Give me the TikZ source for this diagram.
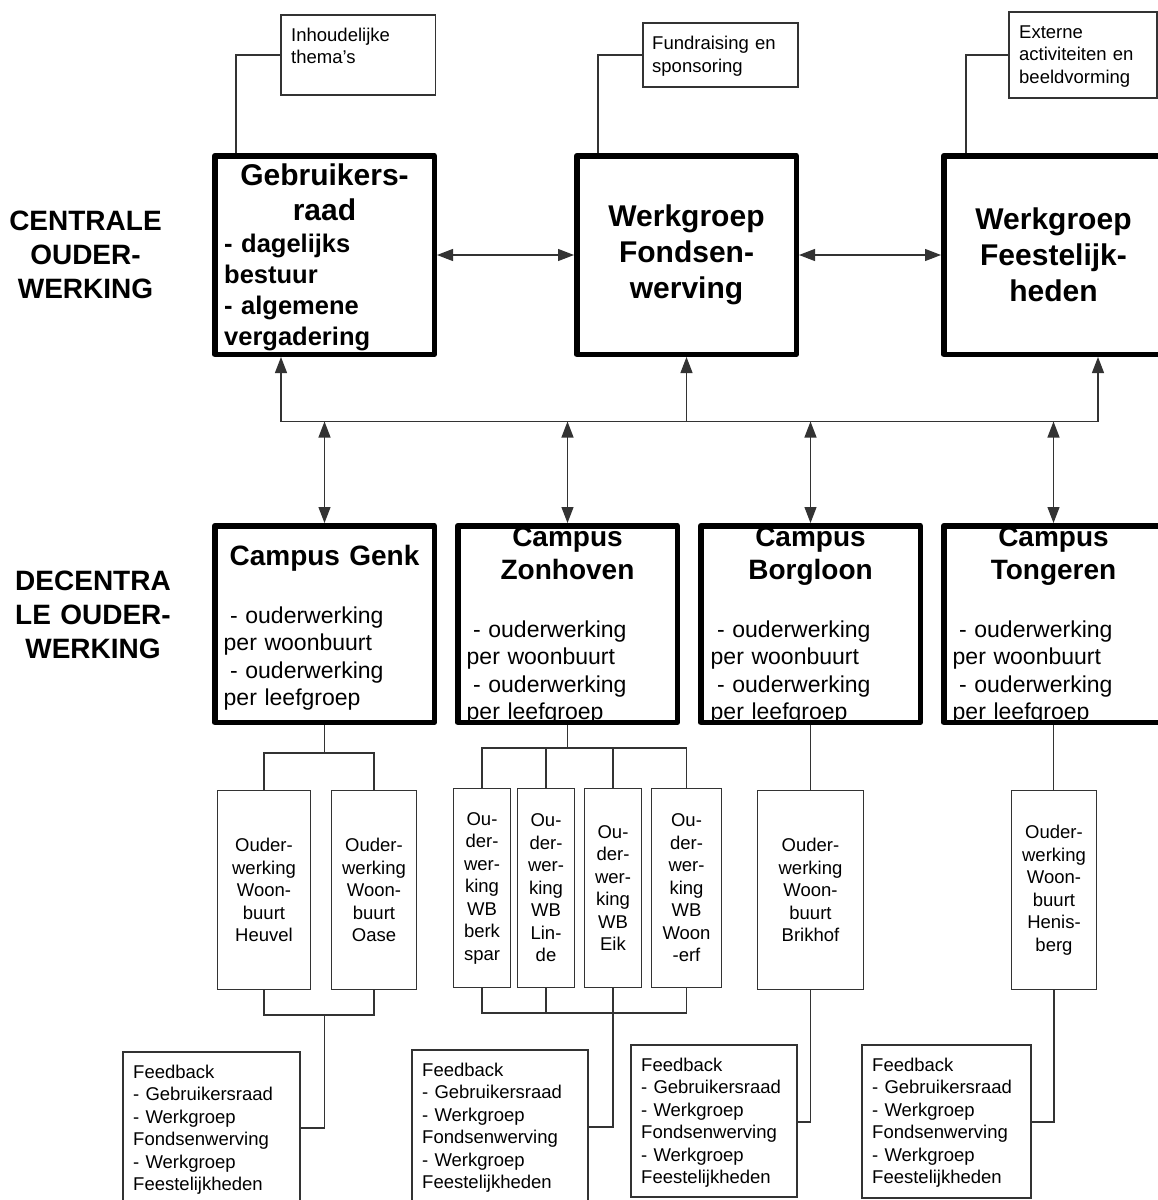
\documentclass[tikz,border=0pt]{standalone}
\usepackage{fontspec}
\setmainfont{Liberation Sans}
\usetikzlibrary{arrows.meta}
\newcommand\fLbl{\fontsize{28pt}{34pt}\selectfont\bfseries}
\newcommand\fTop{\fontsize{30pt}{36pt}\selectfont\bfseries}
\newcommand\fGt{\fontsize{30pt}{35pt}\selectfont\bfseries}
\newcommand\fGl{\fontsize{25.5pt}{31pt}\selectfont\bfseries}
\newcommand\fCt{\fontsize{28pt}{33pt}\selectfont\bfseries}
\newcommand\fCl{\fontsize{23pt}{27.5pt}\selectfont}
\newcommand\fSm{\fontsize{18.5pt}{22.5pt}\selectfont}
\newcommand\lsp{\hspace*{.278em}}
\tikzset{
  conn/.style={line width=1.2pt, draw=black!80},
  tip/.tip={Triangle[length=16pt,width=12pt]},
  onearrow/.style={conn, -tip},
  dblarrow/.style={conn, tip-tip},
  thickbox/.style={draw=black, line width=5.5pt, line join=round, rectangle, inner sep=0pt,
    minimum width=219.5pt, minimum height=198.5pt},
  campbox/.style={thickbox, minimum height=196.5pt},
  toptext/.style={font=\fTop, align=center},
  smallbox/.style={draw=black!80, line width=1.2pt, rectangle, inner sep=0pt},
  subbox/.style={smallbox, minimum height=199pt, align=center, font=\fSm},
  smalltext/.style={font=\fSm, inner sep=0pt, text width=160pt, align=left},
  lbl/.style={font=\fLbl, inner sep=0pt, text width=190pt, align=center},
  gtitle/.style={font=\fGt, inner sep=0pt, text width=215pt, align=center},
  glist/.style={font=\fGl, inner sep=0pt, text width=205pt, align=left},
  ctitle/.style={font=\fCt, inner sep=0pt, text width=215pt, align=center},
  clist/.style={font=\fCl, inner sep=0pt, text width=205pt, align=left},
}
\begin{document}
\begin{tikzpicture}[x=1pt,y=-1pt]
\useasboundingbox (0,0) rectangle (1158,1200);
\clip (0,0) rectangle (1158,1200);
\fill[white] (0,0) rectangle (1158,1200);

% left labels
\node[lbl, anchor=base] (cent) at (85.5,230.5) {CENTRALE\\OUDER-\\WERKING};
\node[lbl, anchor=base] (decent) at (93,590) {DECENTRA\\LE OUDER-\\WERKING};

% top small boxes
\node[smallbox, minimum width=154.6pt, minimum height=80pt] (inh) at (358.3,55) {};
\node[smalltext, anchor=base west] (inht) at (291,41) {Inhoudelijke\\thema’s};
\node[smallbox, minimum width=155pt, minimum height=64pt] (fund) at (720.5,55) {};
\node[smalltext, anchor=base west] (fundt) at (652,49.5) {Fundraising en\\sponsoring};
\node[smallbox, minimum width=148pt, minimum height=86pt] (ext) at (1083,55) {};
\node[smalltext, anchor=base west] (extt) at (1019,38) {Externe\\activiteiten en\\beeldvorming};

% top thick boxes
\node[gtitle, anchor=base] (gebrt) at (324.5,185) {Gebruikers-\\raad};
\node[glist, anchor=base west] (gebrl) at (224,252) {- dagelijks\\bestuur\\- algemene\\vergadering};
\node[thickbox] (gebr) at (324.5,255) {};
\node[thickbox, toptext] (fonds) at (686.5,255) {Werkgroep\\Fondsen-\\werving};
\node[thickbox, toptext] (feest) at (1053.5,255) {Werkgroep\\Feestelijk-\\heden};

% campus texts
\node[ctitle, anchor=base] (genkt) at (324.5,565) {Campus Genk};
\node[clist, anchor=base west] (genkl) at (223.5,623) {\lsp- ouderwerking\\per woonbuurt\\\lsp- ouderwerking\\per leefgroep};
\node[ctitle, anchor=base] (zonht) at (567.5,546) {Campus\\Zonhoven};
\node[clist, anchor=base west] (zonhl) at (466.5,637) {\lsp- ouderwerking\\per woonbuurt\\\lsp- ouderwerking\\per leefgroep};
\node[ctitle, anchor=base] (borgt) at (810.5,546) {Campus\\Borgloon};
\node[clist, anchor=base west] (borgl) at (710.5,637) {\lsp- ouderwerking\\per woonbuurt\\\lsp- ouderwerking\\per leefgroep};
\node[ctitle, anchor=base] (tongt) at (1053.5,546) {Campus\\Tongeren};
\node[clist, anchor=base west] (tongl) at (952.5,637) {\lsp- ouderwerking\\per woonbuurt\\\lsp- ouderwerking\\per leefgroep};

% campus boxes
\node[campbox] (genk) at (324.5,624) {};
\node[campbox] (zonh) at (567.5,624) {};
\node[campbox] (borg) at (810.5,624) {};
\node[campbox] (tong) at (1053.5,624) {};

% sub boxes
\node[subbox, minimum width=93pt] (heuvel) at (264,890) {Ouder-\\werking\\Woon-\\buurt\\Heuvel};
\node[subbox, minimum width=85pt] (oase) at (374,890) {Ouder-\\werking\\Woon-\\buurt\\Oase};
\node[subbox, minimum width=57pt] (berk) at (482,888) {Ou-\\der-\\wer-\\king\\WB\\berk\\spar};
\node[subbox, minimum width=57pt] (linde) at (546,888) {Ou-\\der-\\wer-\\king\\WB\\Lin-\\de};
\node[subbox, minimum width=57pt] (eik) at (613,888) {Ou-\\der-\\wer-\\king\\WB\\Eik};
\node[subbox, minimum width=70pt] (woon) at (686.5,888) {Ou-\\der-\\wer-\\king\\WB\\Woon\\-erf};
\node[subbox, minimum width=106pt] (brik) at (810.5,890) {Ouder-\\werking\\Woon-\\buurt\\Brikhof};
\node[subbox, minimum width=85pt] (henis) at (1054,890) {Ouder-\\werking\\Woon-\\buurt\\Henis-\\berg};

% feedback boxes
\node[smallbox, minimum width=177pt, minimum height=152pt] (fb1) at (211.5,1128) {};
\node[smalltext, anchor=base west] (fb1t) at (133,1078) {Feedback\\- Gebruikersraad\\- Werkgroep\\Fondsenwerving\\- Werkgroep\\Feestelijkheden};
\node[smallbox, minimum width=176pt, minimum height=153pt] (fb2) at (500,1126.5) {};
\node[smalltext, anchor=base west] (fb2t) at (422,1076) {Feedback\\- Gebruikersraad\\- Werkgroep\\Fondsenwerving\\- Werkgroep\\Feestelijkheden};
\node[smallbox, minimum width=166pt, minimum height=152pt] (fb3) at (714,1121) {};
\node[smalltext, anchor=base west] (fb3t) at (641,1071) {Feedback\\- Gebruikersraad\\- Werkgroep\\Fondsenwerving\\- Werkgroep\\Feestelijkheden};
\node[smallbox, minimum width=169pt, minimum height=153pt] (fb4) at (946.5,1121.5) {};
\node[smalltext, anchor=base west] (fb4t) at (872,1071) {Feedback\\- Gebruikersraad\\- Werkgroep\\Fondsenwerving\\- Werkgroep\\Feestelijkheden};

% connectors top small boxes
\coordinate (inhc) at (236,55);
\draw[conn] (inh.west) -- (inhc) -- (inhc |- gebr.north);
\coordinate (fundc) at (598,55);
\draw[conn] (fund.west) -- (fundc) -- (fundc |- fonds.north);
\coordinate (extc) at (966,55);
\draw[conn] (ext.west) -- (extc) -- (extc |- feest.north);

% arrows between top boxes
\draw[dblarrow] (gebr.east) -- (fonds.west);
\draw[dblarrow] (fonds.east) -- (feest.west);

% bus
\coordinate (busL) at (281,421.5);
\coordinate (busM) at (686.5,421.5);
\coordinate (busR) at (1098,421.5);
\draw[conn] (busL) -- (busR);
\draw[onearrow] (busL) -- (busL |- gebr.south);
\draw[onearrow] (busM) -- (fonds.south);
\draw[onearrow] (busR) -- (busR |- feest.south);
\draw[dblarrow] (genk.north |- busL) -- (genk.north);
\draw[dblarrow] (zonh.north |- busL) -- (zonh.north);
\draw[dblarrow] (borg.north |- busL) -- (borg.north);
\draw[dblarrow] (tong.north |- busL) -- (tong.north);

% Genk sub connectors
\coordinate (gj) at (324.5,753);
\draw[conn] (genk.south) -- (gj);
\draw[conn] (gj) -| (heuvel.north);
\draw[conn] (gj) -| (oase.north);
\coordinate (gb) at (324.5,1015);
\draw[conn] (heuvel.south) |- (gb);
\draw[conn] (oase.south) |- (gb);
\coordinate (g1) at (324.5,1128);
\draw[conn] (gb) -- (g1) -- (g1 -| fb1.east);

% Zonhoven sub connectors
\coordinate (zj) at (567.5,748);
\draw[conn] (zonh.south) -- (zj);
\draw[conn] (zj) -| (berk.north);
\draw[conn] (zj) -| (linde.north);
\draw[conn] (zj) -| (eik.north);
\draw[conn] (zj) -| (woon.north);
\coordinate (zb) at (613,1013);
\draw[conn] (berk.south) |- (zb);
\draw[conn] (linde.south) |- (zb);
\draw[conn] (woon.south) |- (zb);
\draw[conn] (eik.south) -- (zb);
\coordinate (z2) at (613,1127);
\draw[conn] (zb) -- (z2) -- (z2 -| fb2.east);

% Borgloon
\draw[conn] (borg.south) -- (brik.north);
\coordinate (b3) at (810.5,1122);
\draw[conn] (brik.south) -- (b3) -- (b3 -| fb3.east);

% Tongeren
\draw[conn] (tong.south) -- (tong.south |- henis.north);
\coordinate (t4) at (1054,1122);
\draw[conn] (henis.south) -- (t4) -- (t4 -| fb4.east);
\end{tikzpicture}
\end{document}
